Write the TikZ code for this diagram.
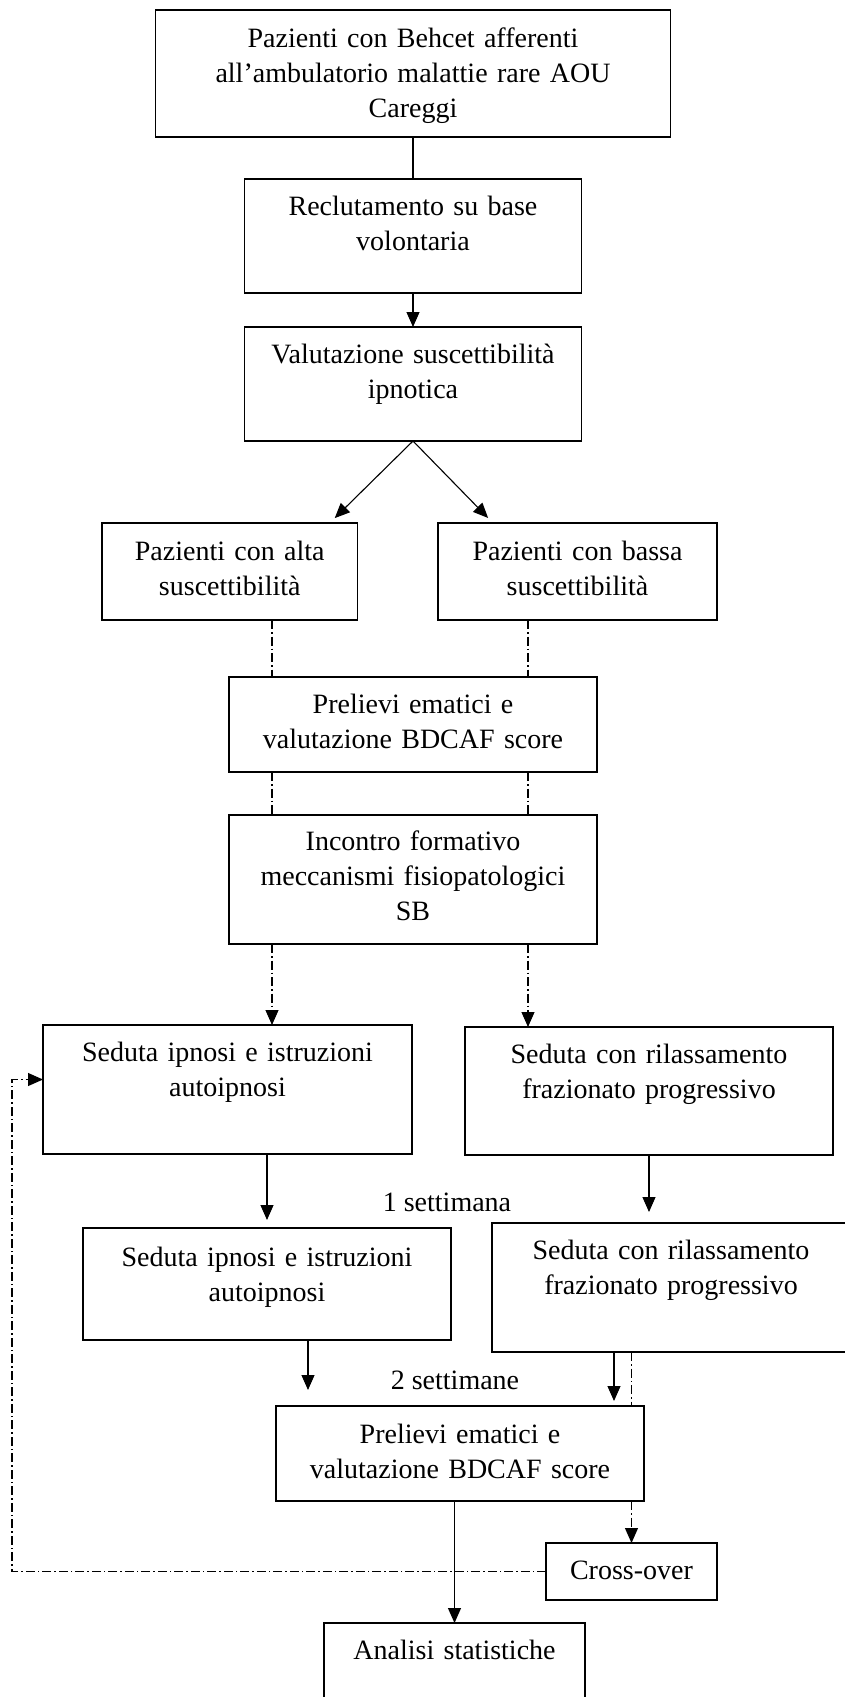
\documentclass[tikz,border=0pt]{standalone}
\usepackage{fontspec}
\setmainfont{Liberation Serif}
\usepackage{tikz}
\usetikzlibrary{positioning,arrows.meta}

\begin{document}
\begin{tikzpicture}[
        font=\fontsize{28}{35}\selectfont,
        >={Triangle[length=15pt,width=13pt]},
        box/.style n args={3}{draw, line width=1.6pt, align=center, inner sep=0pt, outer sep=0pt,
            text width=#1, text height=#2, text depth=#3},
        conn/.style={line width=1.1pt},
        dashdot/.style={conn, dash pattern=on 9pt off 3pt on 1.5pt off 3pt}
    ]
            \useasboundingbox (0,0) rectangle (845pt,-1697pt);

            \node [box={515pt}{37pt}{90pt}, anchor=north] (paz) at (413pt,-10pt) {Pazienti con Behcet afferenti\\all’ambulatorio malattie rare AOU\\Careggi};
            \node [box={337pt}{36pt}{78pt}, below=42pt of paz] (recl) {Reclutamento su base\\volontaria};
            \node [box={337pt}{36pt}{78pt}, below=34pt of recl] (valut) {Valutazione suscettibilità\\ipnotica};
            \node [box={255.5pt}{37pt}{60pt}, below=82pt of valut, xshift=-183.25pt] (alta) {Pazienti con alta\\suscettibilità};
            \node [box={279pt}{37pt}{60pt}, below=82pt of valut, xshift=164.5pt] (bassa) {Pazienti con bassa\\suscettibilità};
            \node [box={368.5pt}{36pt}{59pt}, below=236pt of valut] (prel1) {Prelievi ematici e\\valutazione BDCAF score};
            \node [box={368.5pt}{35pt}{94pt}, below=43pt of prel1] (incontro) {Incontro formativo\\meccanismi fisiopatologici\\SB};
            \node [box={369pt}{36pt}{93pt}, below=81pt of incontro, xshift=-185.5pt] (sedA1) {Seduta ipnosi e istruzioni\\autoipnosi};
            \node [box={368pt}{36pt}{92pt}, below=83pt of incontro, xshift=236pt] (sedB1) {Seduta con rilassamento\\frazionato progressivo};
            \node [box={368pt}{38pt}{74pt}, below=74pt of sedA1, xshift=39.5pt] (sedA2) {Seduta ipnosi e istruzioni\\autoipnosi};
            \node [box={358pt}{36pt}{93pt}, below=68pt of sedB1, xshift=22pt] (sedB2) {Seduta con rilassamento\\frazionato progressivo};
            \node [box={368pt}{37pt}{58pt}, below=66pt of sedA2, xshift=193pt] (prel2) {Prelievi ematici e\\valutazione BDCAF score};
            \node [box={171pt}{36pt}{21pt}, below=42pt of prel2, xshift=171.5pt] (cross) {Cross-over};
            \node [box={261pt}{36pt}{75pt}, below=122pt of prel2, xshift=-5.5pt] (analisi) {Analisi statistiche};

            \node [anchor=base] (wk1) at ([xshift=180pt, yshift=17pt]sedA2.north) {1 settimana};
            \node [anchor=base] (wk2) at ([xshift=-5pt, yshift=17pt]prel2.north) {2 settimane};

            \coordinate (la) at ([xshift=42.25pt]alta.south);
            \coordinate (ra) at ([xshift=-49.5pt]bassa.south);
            \coordinate (a2) at ([xshift=32pt]prel2.north west);
            \coordinate (b2) at ([xshift=-30pt]prel2.north east);

            \draw [conn] (paz) -- (recl);
            \draw [conn, ->] (recl) -- (valut);
            \draw [conn, ->, shorten >=7pt] (valut.south) -- ([xshift=100pt]alta.north);
            \draw [conn, ->, shorten >=7pt] (valut.south) -- ([xshift=-84.5pt]bassa.north);

            \draw [dashdot] (la) -- (la |- prel1.north);
            \draw [dashdot] (la |- prel1.south) -- (la |- incontro.north);
            \draw [dashdot, ->] (la |- incontro.south) -- (la |- sedA1.north);
            \draw [dashdot] (ra) -- (ra |- prel1.north);
            \draw [dashdot] (ra |- prel1.south) -- (ra |- incontro.north);
            \draw [dashdot, ->] (ra |- incontro.south) -- (ra |- sedB1.north);

            \draw [conn, ->, shorten >=8pt] (sedA1.south -| sedA2.north) -- (sedA2.north);
            \draw [conn, ->, shorten >=11pt] (sedB1.south) -- (sedB1.south |- sedB2.north);
            \draw [conn, ->, shorten >=16pt] (sedA2.south -| a2) -- (a2);
            \draw [conn, ->, shorten >=5pt] (sedB2.south -| b2) -- (b2);

            \draw [dashdot] (sedB2.south -| cross.north) -- (prel2.north -| cross.north);
            \draw [dashdot, ->] (prel2.south -| cross.north) -- (cross.north);
            \draw [conn, ->] (prel2.south -| analisi.north) -- (analisi.north);
            \draw [dashdot, ->] (cross.west) -- ++(-534pt,0) |- ([yshift=10pt]sedA1.west);
        \end{tikzpicture}
\end{document}
